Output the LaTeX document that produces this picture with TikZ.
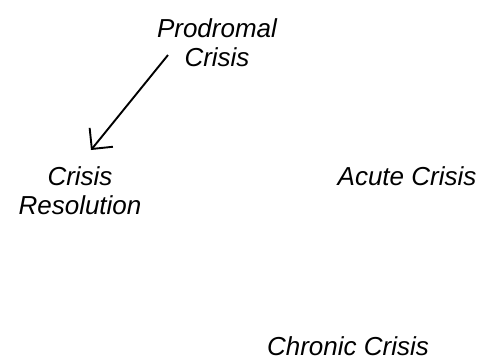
\documentclass[tikz,border=0pt]{standalone}
\usepackage{fontspec}
\setmainfont{Liberation Sans}
\usetikzlibrary{arrows.meta}
\begin{document}
\begin{tikzpicture}[x=1bp,y=-1bp,
  stage/.style={font=\fontsize{26bp}{29bp}\selectfont\itshape,
                inner sep=0pt, anchor=base, align=center},
  flow/.style={line width=1.9bp,
               -{Straight Barb[length=15bp, width=30bp, line width=1.9bp]}}]
  % canvas
  \useasboundingbox (0,0) rectangle (486,360);

  % crisis stages (base anchor sits on the last line)
  \node[stage] (prodromal)  at (217,66)  {Prodromal\\Crisis};
  \node[stage] (resolution) at (80,214)  {Crisis\\Resolution};
  \node[stage] (acute)      at (407,185) {Acute Crisis};
  \node[stage] (chronic)    at (348,355) {Chronic Crisis};

  % transition from the prodromal stage towards resolution
  \coordinate (from) at (168,55);
  \coordinate (to)   at (91,150);
  \draw[flow] (from) -- (to);
\end{tikzpicture}
\end{document}
